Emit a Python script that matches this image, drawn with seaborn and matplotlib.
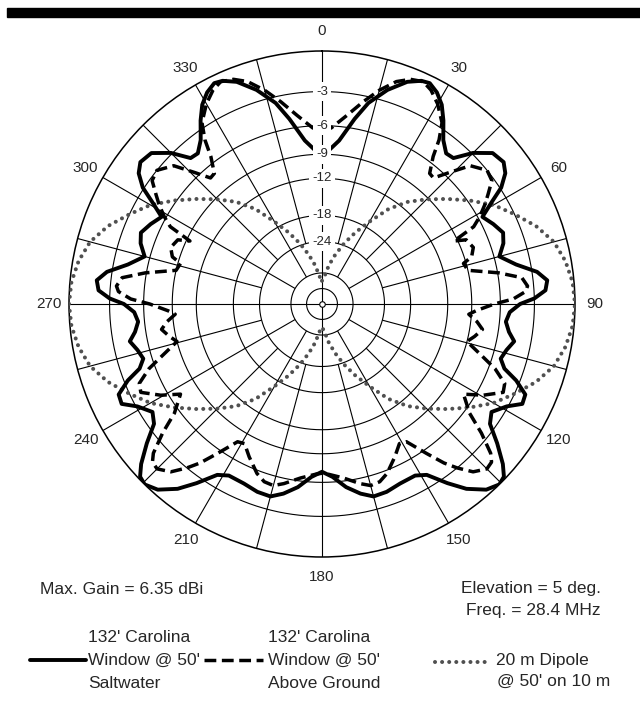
import numpy as np
import pandas as pd
import matplotlib
matplotlib.use("Agg")
import matplotlib.pyplot as plt
from matplotlib.lines import Line2D
from matplotlib.patches import Rectangle
import seaborn as sns

# Azimuth patterns, 5 deg elevation, 28.4 MHz; gain in dB relative to 6.35 dBi
saltwater_az = [0, 6, 10, 13, 17, 21, 24, 26, 28.5, 31, 33.5, 36.5, 39.5, 42, 45, 48.5, 52, 54.5, 57, 59,
                61.5, 65, 68.5, 71.5, 75, 78.5, 81.5, 84, 86.5, 88.5, 90, 92.5, 95.5, 98.5, 101, 104, 107,
                109.5, 111.5, 114, 116.5, 119, 122.5, 125.5, 128.5, 131.5, 133.5, 135.5, 138.5, 142, 145,
                148.5, 151.5, 156.5, 161, 165, 168.5, 172.5, 176.5, 180,
                183.5, 187.5, 191.5, 195, 199, 203.5, 208.5, 211.5, 215, 218, 221.5, 224.5, 226.5, 228.5,
                231.5, 234.5, 237.5, 241, 243.5, 246, 248.5, 250.5, 253, 256, 259, 261.5, 264.5, 267.5,
                270, 271.5, 273.5, 276, 278.5, 281.5, 285, 288.5, 291.5, 295, 298.5, 301, 303, 305.5, 308,
                311.5, 315, 318, 320.5, 323.5, 326.5, 329, 331.5, 334, 336, 339, 343, 347, 350, 354, 360]
saltwater_db = [-9.3, -7.4, -5.1, -3.5, -2.1, -1.05, -0.6, -0.5, -0.85, -1.45, -2.4, -3.7, -4.45, -4.35,
                -2.9, -1.8, -1.6, -2.0, -2.9, -4.2, -5.6, -5.0, -4.5, -4.8, -5.5, -4.2, -2.6, -1.9, -2.1,
                -3.0, -4.2, -5.1, -5.4, -5.0, -4.4, -4.9, -5.2, -4.6, -3.3, -2.2, -2.1, -3.1, -3.95, -3.5,
                -2.1, -0.8, -0.15, 0.0, -0.35, -1.3, -2.5, -4.0, -4.45, -4.4, -4.15, -4.1, -4.6, -5.4,
                -6.5, -7.05,
                -6.5, -5.4, -4.6, -4.1, -4.15, -4.4, -4.45, -4.0, -2.5, -1.3, -0.35, 0.0, -0.15, -0.8,
                -2.1, -3.5, -3.95, -3.1, -2.1, -2.2, -3.3, -4.6, -5.2, -4.9, -4.4, -5.0, -5.4, -5.1,
                -4.2, -3.0, -2.1, -1.9, -2.6, -4.2, -5.5, -4.8, -4.5, -5.0, -5.6, -4.2, -2.9, -2.0,
                -1.6, -1.8, -2.9, -4.35, -4.45, -3.7, -2.4, -1.45, -0.85, -0.5, -0.6, -1.05, -2.1,
                -3.5, -5.1, -7.4, -9.3]

ground_az = [0, 3, 7.5, 11.5, 15, 18.5, 21.5, 24.5, 27, 30, 33.5, 35.5, 37, 39.5, 41.5, 44, 47, 51, 54,
             56.5, 58.5, 61, 63, 64.5, 66, 69.5, 72.5, 74, 77, 79, 80, 82.5, 85, 86.5, 88.5, 90, 92.5, 94,
             96.5, 99, 102, 104.5, 108, 110.5, 113.5, 116, 119.5, 122.5, 124.5, 126.5, 129, 131.5, 133,
             135, 138, 140.5, 142.5, 145, 148.5, 151, 154.5, 159, 162, 165, 168, 173, 178, 180,
             182, 187, 192, 195, 198, 201, 205.5, 209, 211.5, 215, 217.5, 219.5, 222, 225, 227, 228.5,
             231, 233.5, 235.5, 237.5, 240.5, 244, 246.5, 249.5, 252, 255.5, 258, 261, 263.5, 266,
             267.5, 270, 271.5, 273.5, 275, 277.5, 280, 281, 283, 286, 287.5, 290.5, 294, 295.5, 297,
             299, 301.5, 303.5, 306, 309, 313, 316, 318.5, 320.5, 323, 324.5, 326.5, 330, 333, 335.5,
             338.5, 341.5, 345, 348.5, 352.5, 357, 360]
ground_db = [-6.4, -6.2, -4.9, -3.5, -2.3, -1.3, -0.8, -0.6, -0.9, -1.55, -2.6, -3.9, -5.4, -6.9, -7.0,
             -5.6, -3.8, -3.0, -3.2, -4.1, -4.8, -5.8, -6.8, -9.4, -8.1, -7.7, -8.2, -9.3, -9.0, -7.0,
             -5.9, -3.9, -3.5, -3.7, -4.8, -6.6, -8.5, -9.3, -8.3, -7.6, -8.3, -9.0, -7.0, -5.4, -4.1,
             -3.9, -5.35, -7.05, -6.3, -5.5, -3.6, -2.0, -1.5, -1.4, -1.95, -3.0, -4.0, -5.6, -7.7,
             -7.9, -6.9, -5.7, -5.2, -5.1, -5.5, -6.3, -6.8, -6.9,
             -6.8, -6.3, -5.5, -5.1, -5.2, -5.7, -6.9, -7.9, -7.7, -5.6, -4.0, -3.0, -1.95, -1.4, -1.5,
             -2.0, -3.6, -5.5, -6.3, -7.05, -5.35, -3.9, -4.1, -5.4, -7.0, -9.0, -8.3, -7.6, -8.3,
             -9.3, -8.5, -6.6, -4.8, -3.7, -3.5, -3.9, -5.9, -7.0, -9.0, -9.3, -8.2, -7.7, -8.1, -9.4,
             -6.8, -5.8, -4.8, -4.1, -3.2, -3.0, -3.8, -5.6, -7.0, -6.9, -5.4, -3.9, -2.6, -1.55,
             -0.9, -0.6, -0.8, -1.3, -2.3, -3.5, -4.9, -6.2, -6.4]

dipole_az = list(range(0, 361, 5))
dipole_db = [-41, -38, -32, -27.5, -23.5, -20, -16.8, -13.4, -11.0, -9.2, -7.5, -5.8, -4.2, -3.0, -1.8,
             -0.9, -0.4, -0.1, 0.0, -0.1, -0.4, -0.9, -1.8, -3.0, -4.2, -5.8, -7.5, -9.2, -11.0, -13.4,
             -16.8, -20, -23.5, -27.5, -32, -38, -41, -38, -32, -27.5, -23.5, -20, -16.8, -13.4, -11.0,
             -9.2, -7.5, -5.8, -4.2, -3.0, -1.8, -0.9, -0.4, -0.1, 0.0, -0.1, -0.4, -0.9, -1.8, -3.0,
             -4.2, -5.8, -7.5, -9.2, -11.0, -13.4, -16.8, -20, -23.5, -27.5, -32, -38, -41]

ring_db = [0, -3, -6, -9, -12, -18, -24, -36, -48]
ring_label_db = [-3, -6, -9, -12, -18, -24]
bearing_labels = [0, 30, 60, 90, 120, 150, 180, 210, 240, 270, 300, 330]


def db_to_r(db):
    """ARRL log scale: the radius shrinks by a factor 0.89 for every 2 dB."""
    return 0.89 ** (-np.asarray(db, dtype=float) / 2.0)


sns.set_style("white")
plt.rcParams["font.family"] = ["Liberation Sans", "DejaVu Sans"]

W, H = 640, 701
fig = plt.figure(figsize=(W / 100, H / 100), dpi=100)
fig.patch.set_facecolor("white")

cx, cy, R = 322, 304, 253
ax = fig.add_axes([(cx - R) / W, (H - cy - R) / H, 2 * R / W, 2 * R / H], projection="polar")
ax.set_theta_zero_location("N")
ax.set_theta_direction(-1)
ax.set_ylim(0, 1)
ax.set_xticks([])
ax.set_yticks([])
ax.grid(False)
ax.spines["polar"].set_linewidth(1.1)
ax.spines["polar"].set_color("black")

grid_kw = dict(color="black", lw=0.8, zorder=1, solid_capstyle="butt")
circle_t = np.linspace(0, 2 * np.pi, 721)
for d in ring_db[1:]:
    ax.plot(circle_t, np.full_like(circle_t, db_to_r(d)), **grid_kw)

for a in range(0, 360, 15):
    if a % 90 == 0:
        r0 = 0.0
    elif a % 30 == 0:
        r0 = db_to_r(-36)
    else:
        r0 = db_to_r(-24)
    t = np.deg2rad(a)
    ax.plot([t, t], [r0, 1.0], **grid_kw)

# pattern curves
DOT = (0, (0.01, 1.75))
DASH = (0, (3.4, 1.6))
series = [
    ("dipole", dipole_az, dipole_db, dict(color="#505050", lw=2.9), DOT),
    ("ground", ground_az, ground_db, dict(color="black", lw=2.5), DASH),
    ("saltwater", saltwater_az, saltwater_db, dict(color="black", lw=2.8), "-"),
]
for name, az, db, kw, ls in series:
    df = pd.DataFrame({"theta": np.deg2rad(az), "r": db_to_r(db)})
    sns.lineplot(data=df, x="theta", y="r", ax=ax, sort=False, estimator=None,
                 legend=False, zorder=3, **kw)
    line = ax.lines[-1]
    line.set_linestyle(ls)
    if name == "dipole":
        line.set_dash_capstyle("round")
ax.set_xlabel("")
ax.set_ylabel("")
ax.set_ylim(0, 1)

# ring labels along the 0 deg axis
for d in ring_label_db:
    ax.text(0, db_to_r(d), f"-{abs(d)}", ha="center", va="center", fontsize=9.5,
            zorder=6, bbox=dict(boxstyle="square,pad=0.25", fc="white", ec="none"))

ax.plot([0], [0], marker="o", ms=4, mfc="white", mec="black", mew=0.8, zorder=7)

for b in bearing_labels:
    ax.text(np.deg2rad(b), 1.079, str(b), ha="center", va="center", fontsize=11,
            clip_on=False)

# header bar
fig.patches.append(Rectangle((7 / W, (H - 16.7) / H), (W - 7) / W, 9.2 / H,
                             transform=fig.transFigure, color="black", zorder=0))


def fx(px):
    return px / W


def fy(py):
    return (H - py) / H


fs = 12.5
fig.text(fx(40), fy(589), "Max. Gain = 6.35 dBi", ha="left", va="center", fontsize=fs)
fig.text(fx(601), fy(589), "Elevation = 5 deg.", ha="right", va="center", fontsize=fs)
fig.text(fx(601), fy(610), "Freq. = 28.4 MHz", ha="right", va="center", fontsize=fs)

# legend
legend_y = [638, 660, 683]
fig.add_artist(Line2D([fx(30), fx(86)], [fy(660)] * 2, color="black", lw=2.8))
for y, s in zip(legend_y, ["132' Carolina", "Window @ 50'", "Saltwater"]):
    fig.text(fx(88), fy(y), s, ha="left", va="center", fontsize=fs)

fig.add_artist(Line2D([fx(204), fx(263)], [fy(660)] * 2, color="black", lw=2.5, linestyle=DASH))
for y, s in zip(legend_y, ["132' Carolina", "Window @ 50'", "Above Ground"]):
    fig.text(fx(268), fy(y), s, ha="left", va="center", fontsize=fs)

fig.add_artist(Line2D([fx(435), fx(490)], [fy(662)] * 2, color="#505050", lw=2.9,
                      linestyle=DOT, dash_capstyle="round"))
fig.text(fx(496), fy(660), "20 m Dipole", ha="left", va="center", fontsize=fs)
fig.text(fx(497), fy(681), "@ 50' on 10 m", ha="left", va="center", fontsize=fs)

fig.savefig("out.png", dpi=100, facecolor="white")
